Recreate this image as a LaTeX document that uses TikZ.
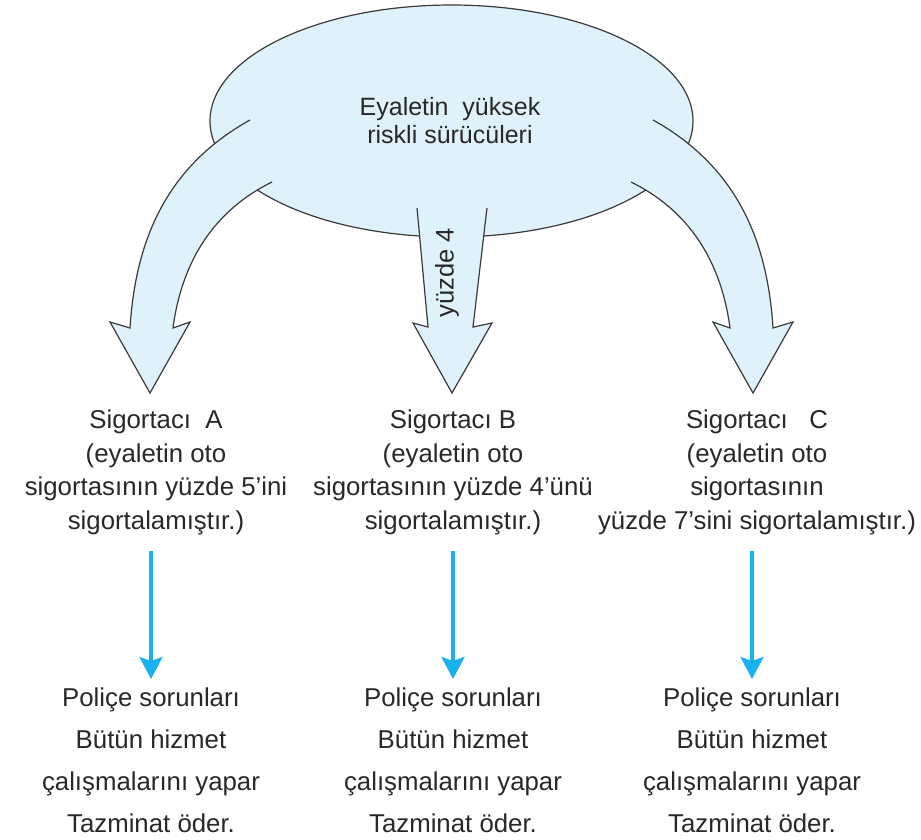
\documentclass[tikz,border=0pt]{standalone}
\usepackage{fontspec}
\setmainfont{Liberation Sans}
\usetikzlibrary{arrows.meta}
\definecolor{cloudfill}{RGB}{223,241,251}
\definecolor{edgegray}{RGB}{58,58,58}
\definecolor{flowblue}{RGB}{27,177,238}
\definecolor{textgray}{RGB}{40,40,40}

\begin{document}
\begin{tikzpicture}[x=1pt,y=-1pt,
    bigarrow/.style={fill=cloudfill,draw=edgegray,line width=1.2pt,line join=miter},
    flow/.style={draw=flowblue,line width=3.3pt,-{Stealth[length=22pt,width=23pt,inset=4pt]},shorten <=16pt,shorten >=9pt},
    lbl/.style={inner sep=0pt,anchor=north,align=center,text=textgray,font=\fontsize{25.8}{33.5}\selectfont},
    tasklbl/.style={lbl,font=\fontsize{25.8}{41.7}\selectfont}]
     \useasboundingbox (0,0) rectangle (921,839);

     \filldraw[bigarrow] (451.5,121) ellipse [x radius=241.5pt, y radius=116pt];
     \node[lbl,font=\fontsize{25}{28}\selectfont] (risk) at (450,97) {Eyaletin~~yüksek\\riskli sürücüleri};

     \filldraw[bigarrow] (250,120) .. controls (160,170) and (135,250) .. (130,328) -- (110,322) -- (150,393)
          -- (190,322) -- (173,328) .. controls (182,260) and (215,210) .. (272,182);
     \filldraw[bigarrow] (417,208) -- (428,327) -- (413,323) -- (452,393) -- (492,323) -- (473,327) -- (487,208);
     \filldraw[bigarrow] (653,120) .. controls (743,170) and (768,250) .. (773,328) -- (793,322) -- (753,393)
          -- (713,322) -- (730,328) .. controls (721,260) and (688,210) .. (631,182);
     \node[text=textgray,font=\fontsize{25.5}{28}\selectfont,rotate=90,inner sep=0pt] (share) at (447,273) {yüzde 4};

     \node[lbl] (hdrA) at (156,410) {Sigortacı~~A\\(eyaletin oto\\sigortasının yüzde 5’ini\\sigortalamıştır.)};
     \node[lbl] (hdrB) at (453,410) {Sigortacı B\\(eyaletin oto\\sigortasının yüzde 4’ünü\\sigortalamıştır.)};
     \node[lbl] (hdrC) at (757,410) {Sigortacı~~~C\\(eyaletin oto\\sigortasının\\yüzde 7’sini sigortalamıştır.)};

     \node[tasklbl] (botA) at (151,688) {Poliçe sorunları\\Bütün hizmet\\çalışmalarını yapar\\Tazminat öder.};
     \node[tasklbl] (botB) at (453,688) {Poliçe sorunları\\Bütün hizmet\\çalışmalarını yapar\\Tazminat öder.};
     \node[tasklbl] (botC) at (752,688) {Poliçe sorunları\\Bütün hizmet\\çalışmalarını yapar\\Tazminat öder.};

     \draw[flow] (hdrA.south -| botA.north) -- (botA.north);
     \draw[flow] (hdrB.south -| botB.north) -- (botB.north);
     \draw[flow] (hdrC.south -| botC.north) -- (botC.north);
\end{tikzpicture}
\end{document}
